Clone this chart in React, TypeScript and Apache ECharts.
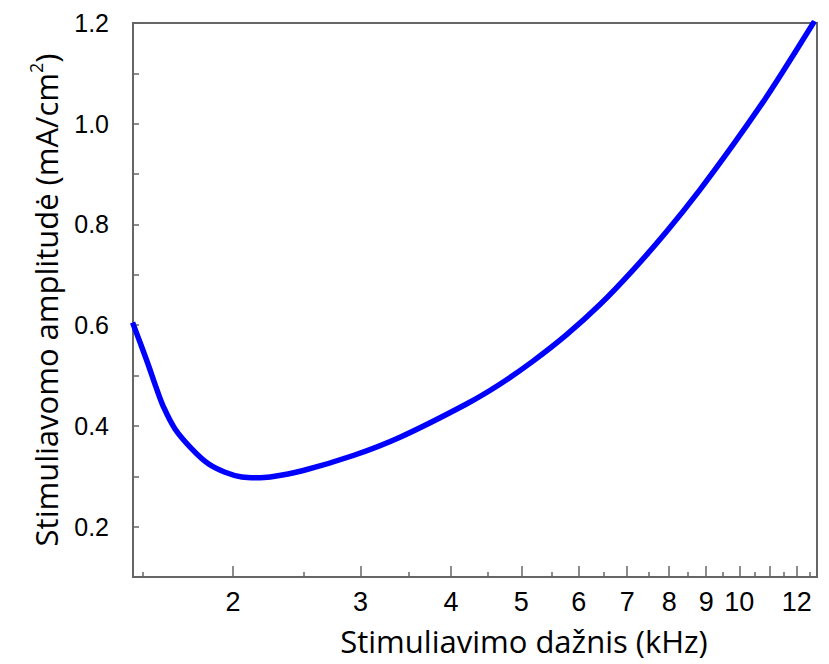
import React, { useEffect, useRef } from "react";
import * as echarts from "echarts";

const freqKHz = [1.453, 1.488, 1.529, 1.565, 1.603, 1.663, 1.754, 1.849, 1.95, 2.056, 2.15, 2.25, 2.5, 2.93, 3.4, 4.2, 4.67, 5.19, 5.77, 6.42, 7.13, 7.93, 8.81, 9.8, 10.78, 11.48, 12.7];
const amplitude = [0.6054, 0.5658, 0.5195, 0.4775, 0.438, 0.394, 0.3545, 0.3248, 0.308, 0.2985, 0.297, 0.2985, 0.3115, 0.3412, 0.3776, 0.4436, 0.4828, 0.5287, 0.5807, 0.6409, 0.7093, 0.7855, 0.8678, 0.9579, 1.0428, 1.1031, 1.2038];
const xLabelValues = [2, 3, 4, 5, 6, 7, 8, 9, 10, 12];
const xMajorTicks = [2, 3, 4, 5, 6, 7, 8, 9, 10, 11, 12];
const xMinorTicks = [1.5, 2.5, 3.5, 4.5, 5.5, 6.5, 7.5, 8.5, 9.5, 10.5, 11.5, 12.5];
const xMin = 1.455;
const xMax = 12.8;
const xTitle = "Stimuliavimo dažnis (kHz)";
const yTitleMain = "Stimuliavomo amplitudė (mA/cm";

const lg = (v: number) => Math.log10(v);

export default function App() {
  const ref = useRef<HTMLDivElement>(null);
  useEffect(() => {
    if (!ref.current) return;
    const chart = echarts.init(ref.current, undefined, { renderer: "svg" });
    const axisColor = "#666";
    chart.setOption({
      animation: false,
      backgroundColor: "#fff",
      grid: {
        left: 133,
        right: 12,
        top: 23,
        bottom: 87,
        show: true,
        borderColor: axisColor,
        borderWidth: 2,
        backgroundColor: "transparent",
      },
      xAxis: [
        {
          type: "value",
          min: lg(xMin),
          max: lg(xMax),
          axisLine: { show: true, lineStyle: { color: axisColor, width: 2 } },
          axisTick: {
            show: true,
            inside: true,
            length: 11,
            customValues: xMajorTicks.map(lg),
            lineStyle: { color: axisColor, width: 1.5 },
          },
          axisLabel: {
            fontFamily: "Liberation Sans",
            fontSize: 27,
            color: "#000",
            margin: 11,
            customValues: xLabelValues.map(lg),
            formatter: (v: number) => String(Math.round(Math.pow(10, v))),
          },
          splitLine: { show: false },
        },
        {
          type: "value",
          min: lg(xMin),
          max: lg(xMax),
          position: "bottom",
          axisLine: { show: false },
          axisTick: {
            show: true,
            inside: true,
            length: 5,
            customValues: xMinorTicks.map(lg),
            lineStyle: { color: axisColor, width: 1.5 },
          },
          axisLabel: { show: false },
          splitLine: { show: false },
        },
      ],
      yAxis: {
        type: "value",
        min: 0.1,
        max: 1.2,
        interval: 0.1,
        axisLine: { show: true, lineStyle: { color: axisColor, width: 2 } },
        axisTick: { show: true, inside: true, length: 6, lineStyle: { color: axisColor, width: 1.5 } },
        axisLabel: {
          fontFamily: "Liberation Sans",
          fontSize: 25,
          color: "#000",
          margin: 24,
          formatter: (v: number) => {
            const t = Math.round(v * 10);
            return t % 2 === 0 ? v.toFixed(1) : "";
          },
        },
        splitLine: { show: false },
      },
      graphic: [
        {
          type: "text",
          x: 524,
          y: 641,
          style: {
            text: xTitle,
            fontFamily: "Open Sans",
            fontSize: 31,
            fill: "#000",
            align: "center",
            verticalAlign: "middle",
          },
        },
        {
          type: "text",
          x: 44,
          y: 300,
          rotation: Math.PI / 2,
          style: {
            text: "{a|" + yTitleMain + "}{s|2}{a|)}",
            fill: "#000",
            align: "center",
            verticalAlign: "middle",
            rich: {
              a: { fontFamily: "Open Sans", fontSize: 31, fill: "#000", verticalAlign: "bottom" },
              s: { fontFamily: "Open Sans", fontSize: 18, fill: "#000", verticalAlign: "top", padding: [0, 0, 16, 0] },
            },
          },
        },
      ],
      series: [
        {
          type: "line",
          data: freqKHz.map((f, i) => [lg(f), amplitude[i]]),
          smooth: 0.35,
          showSymbol: false,
          xAxisIndex: 0,
          lineStyle: { color: "#0000ff", width: 5.5 },
          clip: true,
        },
      ],
    });
    return () => chart.dispose();
  }, []);
  return (
    <div
      ref={ref}
      style={{ position: "fixed", left: 0, top: 0, width: 829, height: 664 }}
    />
  );
}
